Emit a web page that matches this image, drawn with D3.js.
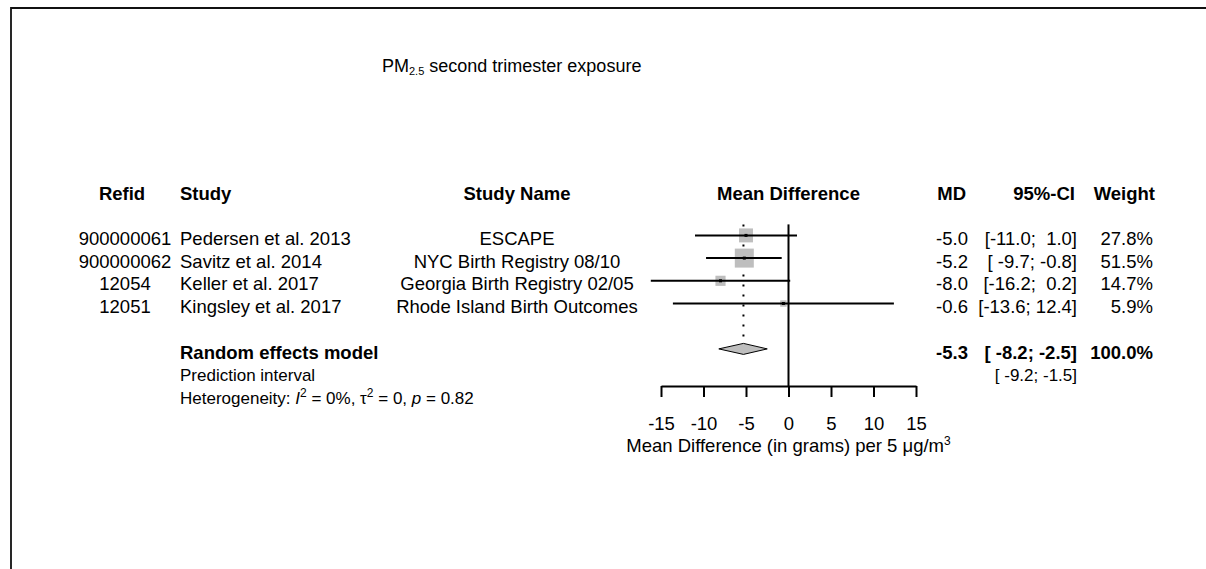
<!DOCTYPE html>
<html><head><meta charset="utf-8">
<script src="https://cdn.jsdelivr.net/npm/d3@7"></script>
<style>
body{margin:0;background:#fff;}
svg{display:block;font-family:"Liberation Sans",Arial,sans-serif;}
text{white-space:pre;}
</style></head><body>
<svg id="chart" width="1206" height="569"></svg>
<script>
// ---- data ----
const refids = ["900000061","900000062","12054","12051"];
const studies = ["Pedersen et al. 2013","Savitz et al. 2014","Keller et al. 2017","Kingsley et al. 2017"];
const studyNames = ["ESCAPE","NYC Birth Registry 08/10","Georgia Birth Registry 02/05","Rhode Island Birth Outcomes"];
const md = [-5.0,-5.2,-8.0,-0.6];
const ciLower = [-11.0,-9.7,-16.2,-13.6];
const ciUpper = [1.0,-0.8,0.2,12.4];
const weights = [27.8,51.5,14.7,5.9];
const pooled = [-5.3,-8.2,-2.5];
const predInterval = [-9.2,-1.5];
const ticks = [-15,-10,-5,0,5,10,15];
const ciLabels = ["[-11.0;  1.0]","[ -9.7; -0.8]","[-16.2;  0.2]","[-13.6; 12.4]"];
const headers = ["Refid","Study","Study Name","Mean Difference","MD","95%-CI","Weight"];

const svg = d3.select("#chart");
const fs = 18.5, fsSmall = 17;
const capOff = 6.6; // baseline offset from text centre

// border
svg.append("path").attr("d","M11,569 V8 H1206").attr("fill","none").attr("stroke","#111").attr("stroke-width",1.8);

// title
const t = svg.append("text").attr("x",382).attr("y",71.5).attr("font-size",18).attr("fill","#000");
t.append("tspan").text("PM");
t.append("tspan").attr("font-size",11).attr("dy",3).text("2.5");
t.append("tspan").attr("dy",-3).text(" second trimester exposure");

const x = d3.scaleLinear().domain([-15,15]).range([661,916]);
// row index -> text centre
const yRow = d3.scaleLinear().domain([0,1]).range([193,215.7]);
const rowIdx = [2,3,4,5];
const reIdx = 7, piIdx = 8, hetIdx = 9;
const markOff = -3;
const yAxis = 386;

// column anchors
const colRefid = 125, colStudy = 180, colName = 517, colMD = 968, colCI = 1077, colW = 1153;

// headers
const hdr = svg.append("g").attr("font-weight","bold").attr("font-size",fs);
const hy = yRow(0)+capOff;
hdr.append("text").attr("x",122).attr("y",hy).attr("text-anchor","middle").text(headers[0]);
hdr.append("text").attr("x",colStudy).attr("y",hy).text(headers[1]);
hdr.append("text").attr("x",colName).attr("y",hy).attr("text-anchor","middle").text(headers[2]);
hdr.append("text").attr("x",x(0)).attr("y",hy).attr("text-anchor","middle").text(headers[3]);
hdr.append("text").attr("x",colMD-2).attr("y",hy).attr("text-anchor","end").text(headers[4]);
hdr.append("text").attr("x",colCI-2).attr("y",hy).attr("text-anchor","end").text(headers[5]);
hdr.append("text").attr("x",colW+2).attr("y",hy).attr("text-anchor","end").text(headers[6]);

// rows text
const rg = svg.append("g").attr("font-size",fs).attr("fill","#000");
refids.forEach((r,i)=>{
  const yy = yRow(rowIdx[i])+capOff;
  rg.append("text").attr("x",colRefid).attr("y",yy).attr("text-anchor","middle").text(refids[i]);
  rg.append("text").attr("x",colStudy).attr("y",yy).text(studies[i]);
  rg.append("text").attr("x",colName).attr("y",yy).attr("text-anchor","middle").text(studyNames[i]);
  rg.append("text").attr("x",colMD).attr("y",yy).attr("text-anchor","end").text(md[i].toFixed(1));
  rg.append("text").attr("x",colCI).attr("y",yy).attr("text-anchor","end").text(ciLabels[i]);
  rg.append("text").attr("x",colW).attr("y",yy).attr("text-anchor","end").text(weights[i].toFixed(1)+"%");
});

// RE row
const reY = yRow(reIdx)+capOff;
const re = svg.append("g").attr("font-size",fs).attr("font-weight","bold");
re.append("text").attr("x",colStudy).attr("y",reY).text("Random effects model");
re.append("text").attr("x",colMD).attr("y",reY).attr("text-anchor","end").text(pooled[0].toFixed(1));
re.append("text").attr("x",colCI).attr("y",reY).attr("text-anchor","end").text("[ "+pooled[1].toFixed(1)+"; "+pooled[2].toFixed(1)+"]");
re.append("text").attr("x",colW).attr("y",reY).attr("text-anchor","end").text("100.0%");

const sm = svg.append("g").attr("font-size",fsSmall);
const piY = yRow(piIdx)+capOff, hetY = yRow(hetIdx)+capOff;
sm.append("text").attr("x",colStudy).attr("y",piY).text("Prediction interval");
sm.append("text").attr("x",colCI).attr("y",piY).attr("text-anchor","end").text("[ "+predInterval[0].toFixed(1)+"; "+predInterval[1].toFixed(1)+"]");
const het = sm.append("text").attr("x",colStudy).attr("y",hetY);
het.append("tspan").text("Heterogeneity: ");
het.append("tspan").attr("font-style","italic").text("I");
het.append("tspan").attr("font-size",12).attr("dy",-7).text("2");
het.append("tspan").attr("dy",7).text(" = 0%, \u03c4");
het.append("tspan").attr("font-size",12).attr("dy",-7).text("2");
het.append("tspan").attr("dy",7).text(" = 0, ");
het.append("tspan").attr("font-style","italic").text("p");
het.append("tspan").text(" = 0.82");

// plot marks
const plotTop = yRow(rowIdx[0])+markOff-11;
const yd = yRow(reIdx)+markOff;
const dHalf = 5.5;
// dotted pooled line
svg.append("line").attr("x1",x(pooled[0])).attr("x2",x(pooled[0]))
  .attr("y1",plotTop).attr("y2",yd-dHalf)
  .attr("stroke","#000").attr("stroke-width",2).attr("stroke-dasharray","2,8");
// zero line
svg.append("line").attr("x1",x(0)).attr("x2",x(0)).attr("y1",plotTop).attr("y2",yAxis)
  .attr("stroke","#000").attr("stroke-width",2);

const sz = d3.scaleSqrt().domain([0,d3.max(weights)]).range([0,19]);
refids.forEach((r,i)=>{
  const yy = yRow(rowIdx[i])+markOff;
  const s = sz(weights[i]);
  svg.append("rect").attr("x",x(md[i])-s/2).attr("y",yy-s/2).attr("width",s).attr("height",s).attr("fill","#bebebe");
  svg.append("line").attr("x1",x(ciLower[i])).attr("x2",x(ciUpper[i])).attr("y1",yy).attr("y2",yy)
    .attr("stroke","#000").attr("stroke-width",2);
  svg.append("rect").attr("x",x(md[i])-1.5).attr("y",yy-1.5).attr("width",3).attr("height",3).attr("fill","#000");
});

// diamond
svg.append("path").attr("d",`M${x(pooled[1])},${yd} L${x(pooled[0])},${yd-dHalf} L${x(pooled[2])},${yd} L${x(pooled[0])},${yd+dHalf} Z`)
  .attr("fill","#bebebe").attr("stroke","#000").attr("stroke-width",1);

// axis
const ax = svg.append("g").attr("transform",`translate(0,${yAxis})`)
  .call(d3.axisBottom(x).tickValues(ticks).tickSize(11).tickSizeOuter(0).tickPadding(20).tickFormat(d3.format("d")));
ax.select(".domain").attr("stroke","#000").attr("stroke-width",2);
ax.selectAll(".tick line").attr("stroke","#000").attr("stroke-width",2);
ax.selectAll(".tick text").attr("font-size",fs).attr("fill","#000").attr("font-family","Liberation Sans, Arial, sans-serif")
  .text(d=>d<0?"-"+Math.abs(d):d);

const at = svg.append("text").attr("x",x(0)).attr("y",451.5).attr("text-anchor","middle").attr("font-size",fs);
at.append("tspan").text("Mean Difference (in grams) per 5 \u03bcg/m");
at.append("tspan").attr("font-size",12).attr("dy",-7).text("3");
</script>
</body></html>
